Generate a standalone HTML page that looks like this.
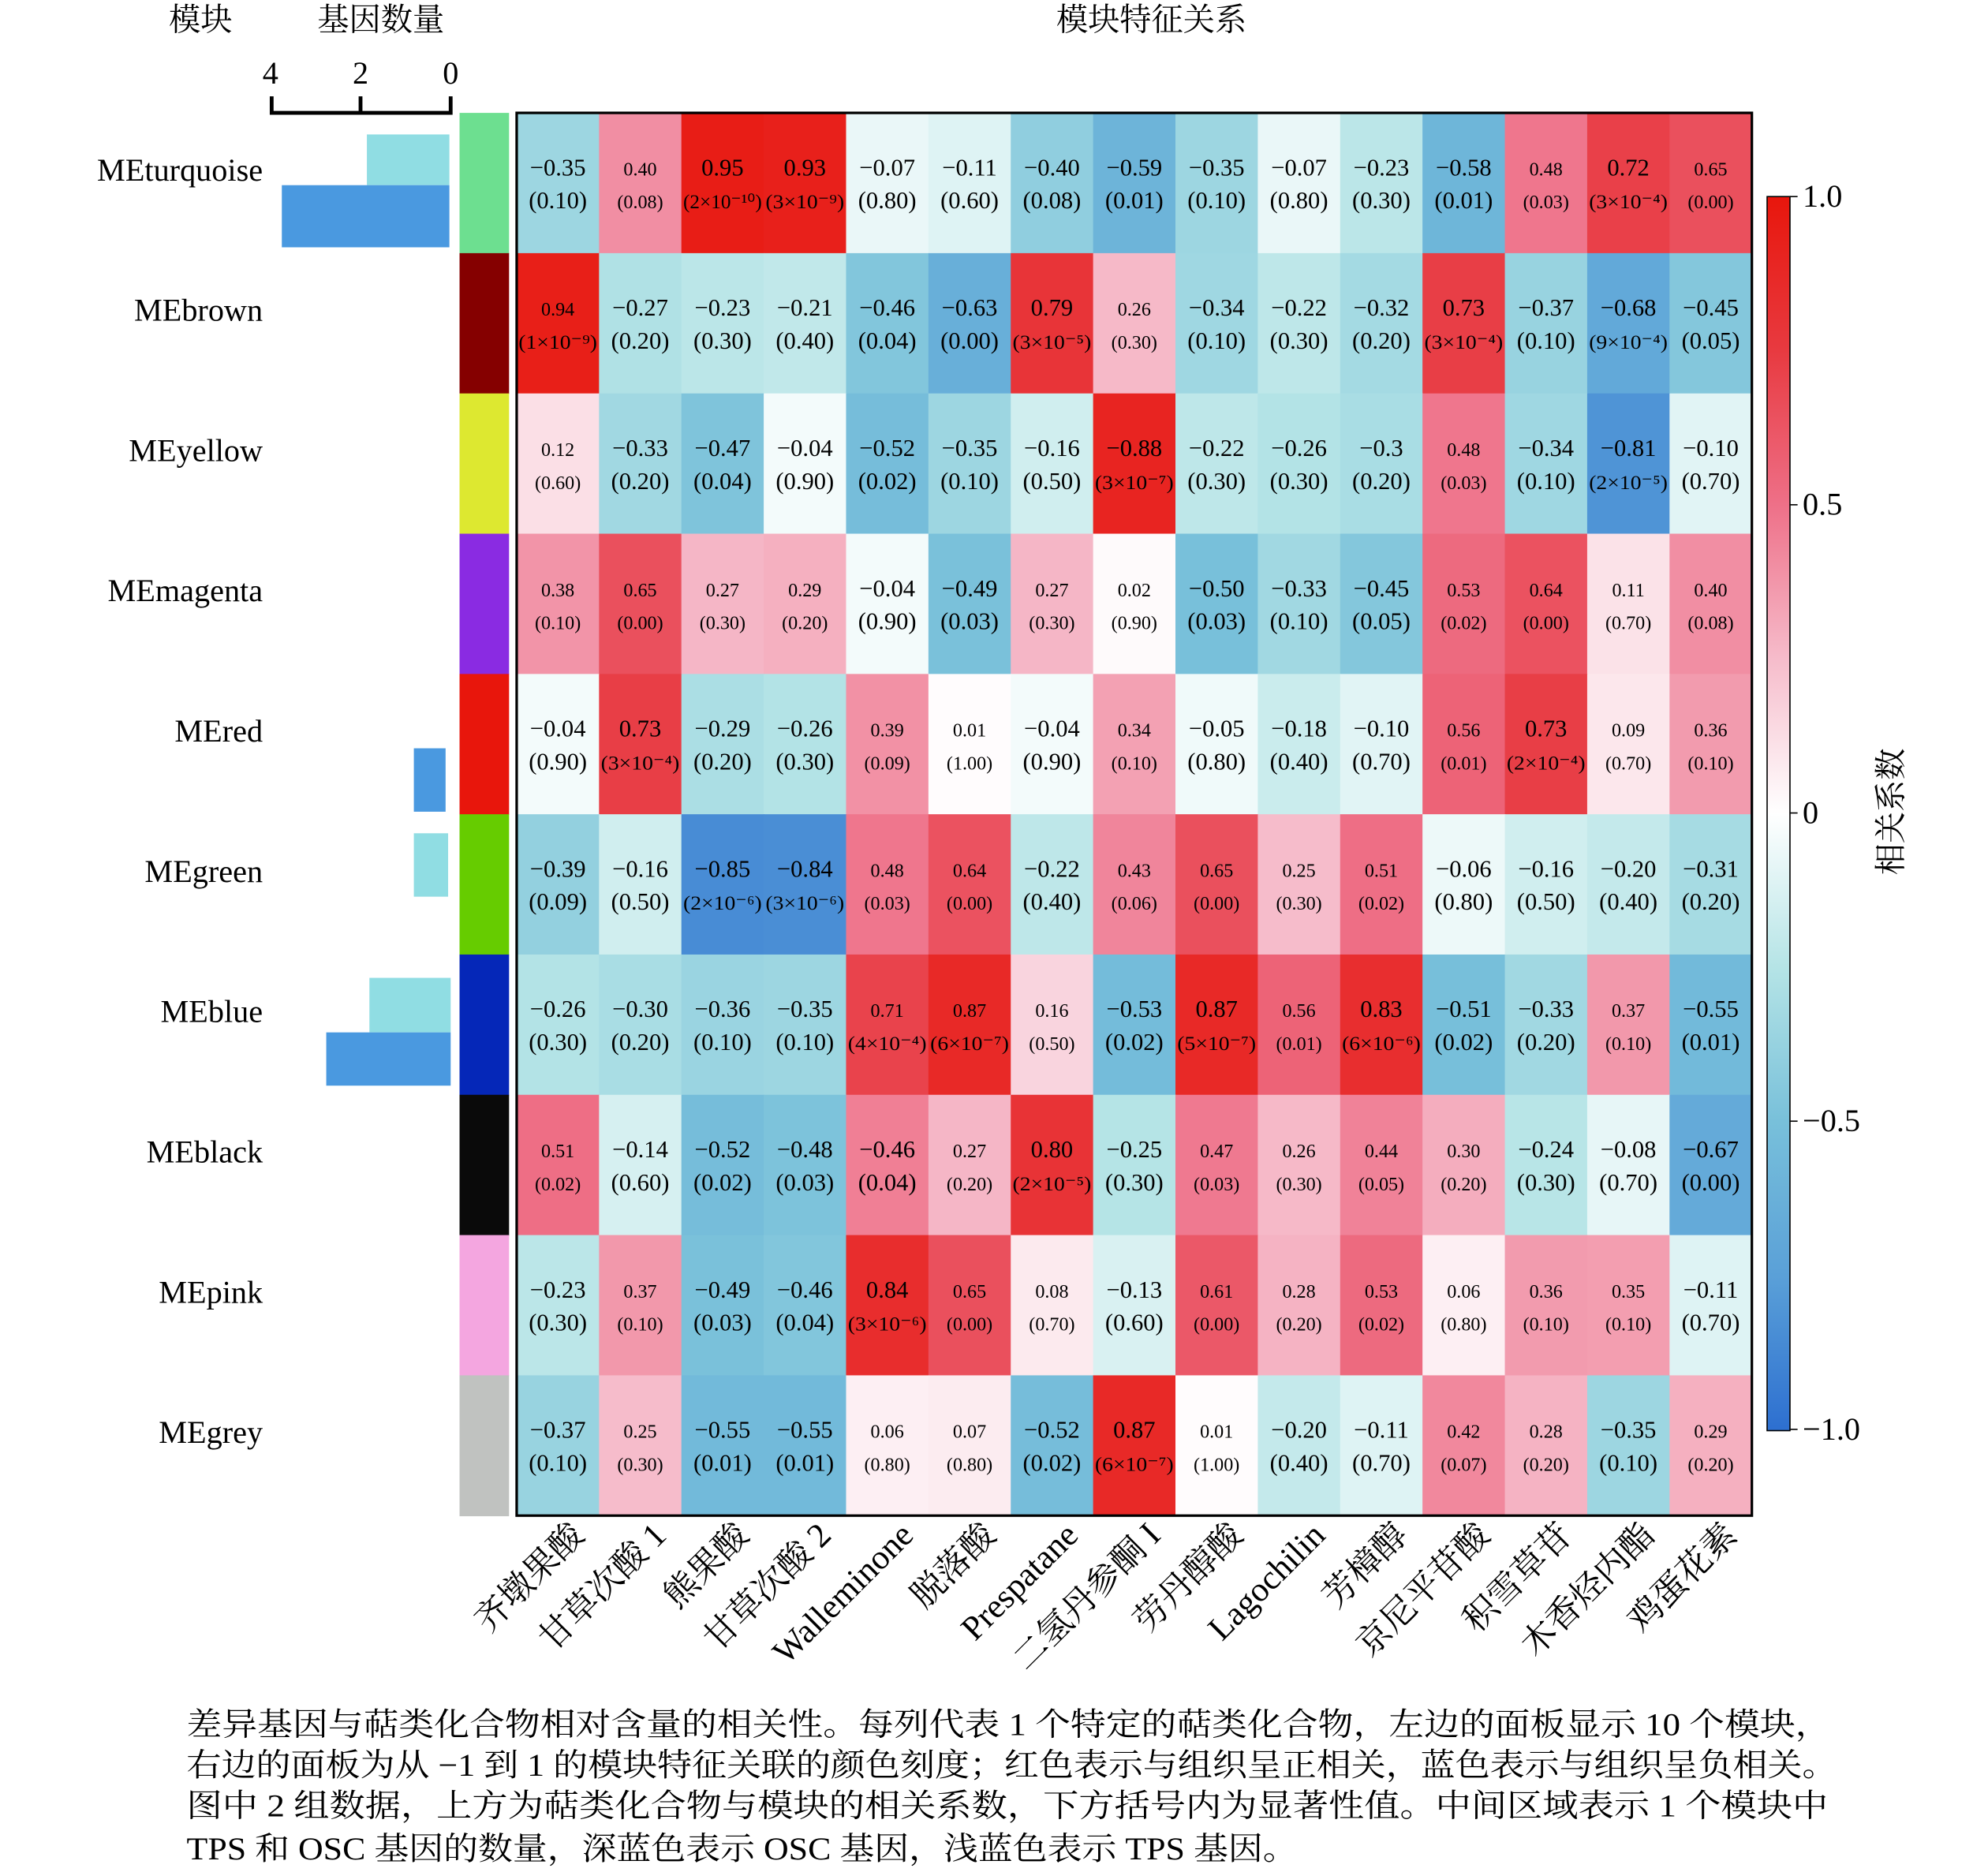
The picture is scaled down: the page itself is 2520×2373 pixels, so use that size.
<!DOCTYPE html>
<html><head><meta charset="utf-8">
<style>html,body{margin:0;padding:0;background:#fff;}svg{display:block;}</style>
</head><body>
<svg id="s" xmlns="http://www.w3.org/2000/svg" width="2520" height="2373" viewBox="0 0 1566 1476" preserveAspectRatio="none" font-family="'Liberation Serif','Noto Serif CJK SC','Noto Sans CJK SC',serif">
<text x="158" y="24" font-size="25" text-anchor="middle">模块</text>
<text x="300" y="24" font-size="25" text-anchor="middle">基因数量</text>
<text x="907" y="24" font-size="25" text-anchor="middle">模块特征关系</text>
<text x="213" y="66" font-size="25" text-anchor="middle">4</text>
<text x="284" y="66" font-size="25" text-anchor="middle">2</text>
<text x="355" y="66" font-size="25" text-anchor="middle">0</text>
<path d="M214,76 V89 H355 V76 M284,76 V89" fill="none" stroke="#000" stroke-width="3"/>
<rect x="289" y="106" width="65" height="40" fill="#90dde3"/>
<rect x="222" y="146" width="132" height="49" fill="#4a99e0"/>
<rect x="326" y="590" width="25" height="50" fill="#4a99e0"/>
<rect x="326" y="657" width="27" height="50" fill="#90dde3"/>
<rect x="291" y="771" width="64" height="43" fill="#90dde3"/>
<rect x="257" y="814" width="98" height="42" fill="#4a99e0"/>
<g id="g"></g>
<rect x="407" y="89" width="973" height="1106" fill="none" stroke="#000" stroke-width="2"/>
<defs><linearGradient id="cb" x1="0" y1="1" x2="0" y2="0">
<stop offset="0" stop-color="#2d6fd0"/><stop offset="0.125" stop-color="#5aa0d8"/><stop offset="0.25" stop-color="#78c0da"/><stop offset="0.375" stop-color="#b5e4e6"/><stop offset="0.5" stop-color="#ffffff"/><stop offset="0.625" stop-color="#f6bccb"/><stop offset="0.75" stop-color="#ee7088"/><stop offset="0.875" stop-color="#e83a40"/><stop offset="1" stop-color="#e8160c"/></linearGradient></defs>
<rect x="1392" y="155" width="18" height="973" fill="url(#cb)" stroke="#000" stroke-width="1"/>
<g font-size="25">
<line x1="1410" y1="155" x2="1416" y2="155" stroke="#000"/><text x="1420" y="163">1.0</text>
<line x1="1410" y1="398" x2="1416" y2="398" stroke="#000"/><text x="1420" y="406">0.5</text>
<line x1="1410" y1="641" x2="1416" y2="641" stroke="#000"/><text x="1420" y="649">0</text>
<line x1="1410" y1="884" x2="1416" y2="884" stroke="#000"/><text x="1420" y="892">−0.5</text>
<line x1="1410" y1="1127" x2="1416" y2="1127" stroke="#000"/><text x="1420" y="1135">−1.0</text>
</g>
<text transform="translate(1498,640) rotate(-90)" font-size="25" text-anchor="middle">相关系数</text>
<g font-size="25">
<text x="147" y="1368" textLength="1295" lengthAdjust="spacingAndGlyphs">差异基因与萜类化合物相对含量的相关性。每列代表 1 个特定的萜类化合物，左边的面板显示 10 个模块，</text>
<text x="147" y="1400" textLength="1300" lengthAdjust="spacingAndGlyphs">右边的面板为从 −1 到 1 的模块特征关联的颜色刻度；红色表示与组织呈正相关，蓝色表示与组织呈负相关。</text>
<text x="147" y="1432" textLength="1293" lengthAdjust="spacingAndGlyphs">图中 2 组数据，上方为萜类化合物与模块的相关系数，下方括号内为显著性值。中间区域表示 1 个模块中</text>
<text x="147" y="1466" textLength="875" lengthAdjust="spacingAndGlyphs">TPS 和 OSC 基因的数量，深蓝色表示 OSC 基因，浅蓝色表示 TPS 基因。</text>
</g>
</svg>
<script>
var mods=[["MEturquoise","#6ddf90"],["MEbrown","#850000"],["MEyellow","#dde830"],["MEmagenta","#8a2be2"],["MEred","#e8160c"],["MEgreen","#66cc00"],["MEblue","#0527b8"],["MEblack","#0a0a0a"],["MEpink","#f4a6e0"],["MEgrey","#c0c2c0"]];
var D=[
"-0.35|0.10,0.40|0.08,0.95|2×10⁻¹⁰,0.93|3×10⁻⁹,-0.07|0.80,-0.11|0.60,-0.40|0.08,-0.59|0.01,-0.35|0.10,-0.07|0.80,-0.23|0.30,-0.58|0.01,0.48|0.03,0.72|3×10⁻⁴,0.65|0.00",
"0.94|1×10⁻⁹,-0.27|0.20,-0.23|0.30,-0.21|0.40,-0.46|0.04,-0.63|0.00,0.79|3×10⁻⁵,0.26|0.30,-0.34|0.10,-0.22|0.30,-0.32|0.20,0.73|3×10⁻⁴,-0.37|0.10,-0.68|9×10⁻⁴,-0.45|0.05",
"0.12|0.60,-0.33|0.20,-0.47|0.04,-0.04|0.90,-0.52|0.02,-0.35|0.10,-0.16|0.50,-0.88|3×10⁻⁷,-0.22|0.30,-0.26|0.30,-0.3|0.20,0.48|0.03,-0.34|0.10,-0.81|2×10⁻⁵,-0.10|0.70",
"0.38|0.10,0.65|0.00,0.27|0.30,0.29|0.20,-0.04|0.90,-0.49|0.03,0.27|0.30,0.02|0.90,-0.50|0.03,-0.33|0.10,-0.45|0.05,0.53|0.02,0.64|0.00,0.11|0.70,0.40|0.08",
"-0.04|0.90,0.73|3×10⁻⁴,-0.29|0.20,-0.26|0.30,0.39|0.09,0.01|1.00,-0.04|0.90,0.34|0.10,-0.05|0.80,-0.18|0.40,-0.10|0.70,0.56|0.01,0.73|2×10⁻⁴,0.09|0.70,0.36|0.10",
"-0.39|0.09,-0.16|0.50,-0.85|2×10⁻⁶,-0.84|3×10⁻⁶,0.48|0.03,0.64|0.00,-0.22|0.40,0.43|0.06,0.65|0.00,0.25|0.30,0.51|0.02,-0.06|0.80,-0.16|0.50,-0.20|0.40,-0.31|0.20",
"-0.26|0.30,-0.30|0.20,-0.36|0.10,-0.35|0.10,0.71|4×10⁻⁴,0.87|6×10⁻⁷,0.16|0.50,-0.53|0.02,0.87|5×10⁻⁷,0.56|0.01,0.83|6×10⁻⁶,-0.51|0.02,-0.33|0.20,0.37|0.10,-0.55|0.01",
"0.51|0.02,-0.14|0.60,-0.52|0.02,-0.48|0.03,-0.46|0.04,0.27|0.20,0.80|2×10⁻⁵,-0.25|0.30,0.47|0.03,0.26|0.30,0.44|0.05,0.30|0.20,-0.24|0.30,-0.08|0.70,-0.67|0.00",
"-0.23|0.30,0.37|0.10,-0.49|0.03,-0.46|0.04,0.84|3×10⁻⁶,0.65|0.00,0.08|0.70,-0.13|0.60,0.61|0.00,0.28|0.20,0.53|0.02,0.06|0.80,0.36|0.10,0.35|0.10,-0.11|0.70",
"-0.37|0.10,0.25|0.30,-0.55|0.01,-0.55|0.01,0.06|0.80,0.07|0.80,-0.52|0.02,0.87|6×10⁻⁷,0.01|1.00,-0.20|0.40,-0.11|0.70,0.42|0.07,0.28|0.20,-0.35|0.10,0.29|0.20"];
var over={"2,7":0.9,"7,4":0.45};
var bigPos={"0,13":1,"1,6":1,"1,11":1,"4,1":1,"4,12":1,"6,8":1,"6,10":1,"7,6":1,"8,4":1,"9,7":1,"0,2":1,"0,3":1};
var labs=["齐墩果酸","甘草次酸 1","熊果酸","甘草次酸 2","Walleminone","脱落酸","Prespatane","二氢丹参酮 I","劳丹醇酸","Lagochilin","芳樟醇","京尼平苷酸","积雪草苷","木香烃内酯","鸡蛋花素"];
var st=[[-1,[45,111,208]],[-0.75,[90,160,216]],[-0.5,[120,192,218]],[-0.25,[181,228,230]],[0,[255,255,255]],[0.25,[246,188,203]],[0.5,[238,112,136]],[0.75,[232,58,64]],[1,[232,22,12]]];
function col(v){v=Math.max(-1,Math.min(1,v));for(var i=0;i<st.length-1;i++){if(v<=st[i+1][0]){var t=(v-st[i][0])/(st[i+1][0]-st[i][0]);var a=st[i][1],b=st[i+1][1];return "rgb("+a.map(function(x,k){return Math.round(x+(b[k]-x)*t)}).join(",")+")";}}return "rgb(232,22,12)";}
var X0=407,Y0=89,CW=973/15,RH=1106/10,h="";
for(var r=0;r<10;r++){
 var y=Y0+r*RH;
 h+='<rect x="362" y="'+y+'" width="39" height="'+(RH+0.5)+'" fill="'+mods[r][1]+'"/>';
 h+='<text x="207" y="'+(y+RH/2-2)+'" font-size="25" text-anchor="end">'+mods[r][0]+'</text>';
 var cells=D[r].split(",");
 for(var c=0;c<15;c++){
  var p=cells[c].split("|"),v=parseFloat(p[0]);var k=r+","+c;
  var cv=(k in over)?over[k]:v;
  var x=X0+c*CW,cx=x+CW/2,cy=y+RH/2;
  h+='<rect x="'+x+'" y="'+y+'" width="'+(CW+0.5)+'" height="'+(RH+0.5)+'" fill="'+col(cv)+'"/>';
  var small=v>0&&!(k in bigPos);
  var fs=small?15:19;var txt=p[0].replace("-","−");
  var pt="("+p[1]+")";var exp=p[1].indexOf("×")>=0;
  h+='<text x="'+cx+'" y="'+(cy-6)+'" font-size="'+fs+'" text-anchor="middle">'+txt+'</text>';
  h+='<text x="'+cx+'" y="'+(cy+20)+'" font-size="'+(exp?16:fs)+'" text-anchor="middle"'+(exp?' textLength="62" lengthAdjust="spacingAndGlyphs"':'')+'>'+pt+'</text>';
 }
}
for(var c=0;c<15;c++){var cx=X0+c*CW+CW/2+22;
 h+='<text transform="translate('+cx+',1212) rotate(-45)" font-size="27" text-anchor="end">'+labs[c]+'</text>';}
document.getElementById("g").innerHTML=h;
</script>
</body></html>
